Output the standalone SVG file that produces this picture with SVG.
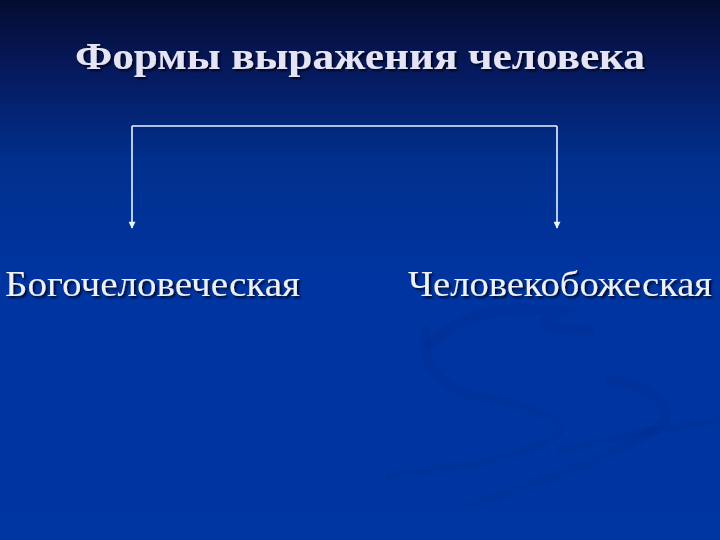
<svg xmlns="http://www.w3.org/2000/svg" width="720" height="540" viewBox="0 0 720 540">
<defs>
<linearGradient id="bg" x1="0" y1="0" x2="0" y2="1">
<stop offset="0" stop-color="#040c30"/>
<stop offset="0.12" stop-color="#06185a"/>
<stop offset="0.3" stop-color="#00308e"/>
<stop offset="0.5" stop-color="#0034a0"/>
<stop offset="1" stop-color="#0036a2"/>
</linearGradient>
<filter id="sh" x="-5%" y="-20%" width="110%" height="140%">
<feDropShadow dx="2" dy="2" stdDeviation="1" flood-color="#000010" flood-opacity="0.8"/>
</filter>
<marker id="ah" viewBox="0 0 10 10" refX="9" refY="5" markerWidth="8" markerHeight="7" markerUnits="userSpaceOnUse" orient="auto">
<path d="M0,0 L10,5 L0,10 Z" fill="#e8f4ff"/>
</marker>
<style>
.t{font-family:"Liberation Serif","DejaVu Serif",serif;fill:#eef0fa;filter:url(#sh)}
.title{font-size:38px;font-weight:bold;fill:#e4e4f4}
.lbl{font-size:36px}
.con{fill:none;stroke:#e8f4ff;stroke-width:1.6}
.sw{fill:none;stroke:#00288a;stroke-linecap:round;opacity:0.22}
</style>
</defs>
<rect width="720" height="540" fill="url(#bg)"/>
<g id="swirl">
<path class="sw" stroke-width="10" d="M430,345 Q470,300 560,312 Q520,330 590,330"/>
<path class="sw" stroke-width="9" d="M425,330 Q420,380 470,395 Q560,410 560,430 Q540,460 390,475"/>
<path class="sw" stroke-width="10" d="M610,380 Q670,390 665,420 Q640,450 470,505"/>
<path class="sw" stroke-width="8" d="M560,450 Q650,430 720,420"/>
</g>
<g id="title"><text class="t title" x="75" y="69" textLength="570" lengthAdjust="spacingAndGlyphs">Формы выражения человека</text></g>
<g id="connectors">
<path class="con" d="M132,126 H557"/>
<path class="con" d="M132,126 V228" marker-end="url(#ah)"/>
<path class="con" d="M557,126 V228" marker-end="url(#ah)"/>
</g>
<g id="node-left"><text class="t lbl" x="5" y="296" textLength="295" lengthAdjust="spacingAndGlyphs">Богочеловеческая</text></g>
<g id="node-right"><text class="t lbl" x="408" y="296" textLength="304" lengthAdjust="spacingAndGlyphs">Человекобожеская</text></g>
</svg>
